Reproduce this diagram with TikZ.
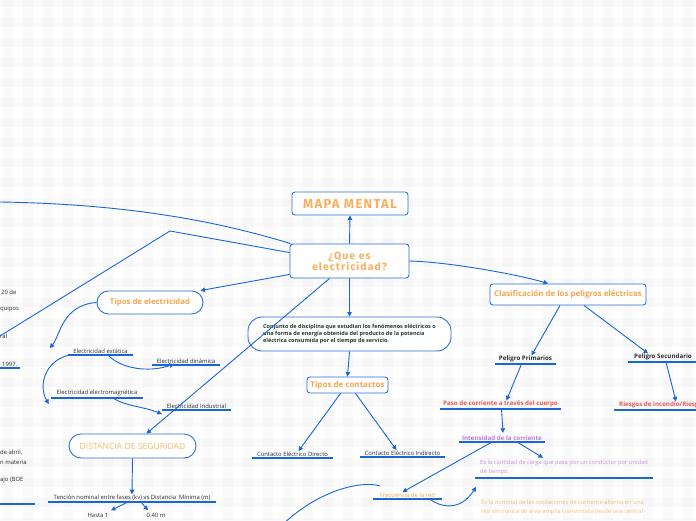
\documentclass[tikz,border=0pt]{standalone}
\usepackage{fontspec}
\setmainfont{Open Sans}
\newfontfamily\headfont{Fira Sans}[LetterSpace=10]
\usetikzlibrary{arrows.meta}
\definecolor{lineblue}{RGB}{24,102,216}
\definecolor{boxblue}{RGB}{45,112,218}
\definecolor{titleor}{RGB}{247,176,96}
\definecolor{orangetx}{RGB}{246,164,76}
\definecolor{distor}{RGB}{249,184,101}
\definecolor{darktx}{RGB}{45,45,45}
\definecolor{conjtx}{RGB}{36,58,44}
\definecolor{redtx}{RGB}{236,88,88}
\definecolor{purpletx}{RGB}{196,120,214}
\definecolor{lilactx}{RGB}{200,150,218}
\definecolor{lightor}{RGB}{249,190,120}
\tikzset{
  box/.style={draw=boxblue, line width=0.9pt, fill=white, rounded corners=3pt, inner sep=0pt, align=center},
  pill/.style={box, rounded corners=11.5pt},
  conn/.style={draw=lineblue, line width=0.9pt},
  arr/.style={conn, -{Triangle[length=4.5pt,width=4.5pt]}},
  ulline/.style={draw=lineblue, line width=1.4pt},
  ul/.style={inner xsep=0pt, inner ysep=1.5pt, anchor=south,
    append after command={(\tikzlastnode.south west) edge[ulline] (\tikzlastnode.south east)}},
  small/.style={font=\fontsize{5.9}{7}\selectfont},
  smallb/.style={font=\bfseries\fontsize{6.2}{7}\selectfont},
}
\begin{document}
\begin{tikzpicture}[x=1pt,y=-1pt]
\useasboundingbox (0,0) rectangle (696,520);
\clip (0,0) rectangle (696,520);
\fill[white] (0,0) rectangle (696,520);
\foreach \i in {0,...,35} \fill[black,opacity=0.02] (\i*20+3,0) rectangle ++(10,520);
\foreach \j in {0,...,26} \fill[black,opacity=0.02] (0,\j*20-2) rectangle ++(696,9);

% main boxes
\node[box, minimum width=116pt, minimum height=23pt, text=titleor,
  font=\headfont\bfseries\fontsize{13}{14}\selectfont] (mapa) at (350,203.5) {MAPA MENTAL};
\node[box, minimum width=119pt, minimum height=34pt, text=titleor,
  font=\headfont\bfseries\fontsize{10.5}{11}\selectfont] (central) at (349.5,261) {¿Que es\\electricidad?};
\node[pill, minimum width=106pt, minimum height=23pt, text=orangetx,
  font=\bfseries\fontsize{7.8}{8}\selectfont] (tipos) at (150,302.5) {Tipos de electricidad};
\node[pill, rounded corners=12pt, minimum width=127pt, minimum height=24pt, text=distor,
  font=\fontsize{8.6}{9}\selectfont] (dist) at (132.5,446) {DISTANCIA DE SEGURIDAD};
\node[box, rounded corners=14pt, minimum width=203pt, minimum height=34pt, text=conjtx,
  font=\bfseries\fontsize{5.5}{7.2}\selectfont, align=left] (conj) at (349.5,334)
  {Conjunto de disciplina que estudian los fenómenos eléctricos o\\una forma de energía obtenida del producto de la potencia\\eléctrica consumida por el tiempo de servicio.};
\node[box, minimum width=81pt, minimum height=16pt, text=orangetx,
  font=\bfseries\fontsize{8}{8}\selectfont] (tcont) at (347.5,385) {Tipos de contactos};
\node[box, minimum width=156pt, minimum height=21pt, text=orangetx,
  font=\bfseries\fontsize{7.9}{8}\selectfont] (clas) at (568,294.5) {Clasificación de los peligros eléctricos};

% underlined topics
\node[ul, small, text=darktx, minimum width=65pt] (est) at (100.5,355) {Electricidad estática};
\node[ul, small, text=darktx, minimum width=68pt] (din) at (186,365) {Electricidad dinámica};
\node[ul, small, text=darktx, minimum width=92pt] (em) at (97,398) {Electricidad electromagnética};
\node[ul, small, text=darktx, minimum width=69pt] (ind) at (196.5,410) {Electricidad Industrial};
\node[ul, small, text=darktx, minimum width=168pt] (ten) at (132,502) {Tención nominal entre fases (kv) vs Distancia\ \ Mínima (m)};
\node[small, text=darktx] (hasta) at (98,515) {Hasta 1};
\node[small, text=darktx] (m040) at (156,515) {0.40 m};
\node[ul, small, text=darktx, minimum width=81pt] (cdir) at (292.5,458) {Contacto Eléctrico Directo};
\node[ul, small, text=darktx, minimum width=85pt] (cind) at (402.5,457) {Contacto Eléctrico Indirecto};
\node[ul, smallb, text=darktx, minimum width=61pt] (pprim) at (525.5,364) {Peligro Primarios};
\node[ul, smallb, text=darktx, minimum width=70pt] (psec) at (663,362) {Peligro Secundario};
\node[ul, smallb, text=redtx, minimum width=121pt] (paso) at (500.5,409) {Paso de corriente a través del cuerpo};
\node[ul, smallb, text=redtx, anchor=south west, inner xsep=5pt] (riesgo) at (614,410) {Riesgos de incendio/Riesgo};
\node[ul, smallb, text=purpletx, minimum width=86pt] (intens) at (502,442) {Intensidad de la corriente};
\node[ul, text=lilactx, anchor=south west, inner xsep=5pt, inner ysep=3pt, align=left,
  font=\fontsize{5.8}{9}\selectfont] (esla) at (475,478)
  {Es la cantidad de carga que pasa por un conductor por unidad\\de tiempo.};
\node[ul, small, text=orangetx, minimum width=69pt] (frec) at (407.5,499) {Frecuencia de la red};
\node[text=lightor, anchor=north west, align=left, inner sep=0pt,
  font=\fontsize{5.8}{9}\selectfont] (esnom) at (481,500)
  {Es la nominal de las oscilaciones de corriente alterna en una\\red sincrónica de área amplia transmitida desde una central};

% cut-off fragments on the left edge
\node[small, text=darktx, anchor=west, inner sep=0pt] (f1) at (1,292) {20 de};
\node[small, text=darktx, anchor=west, inner sep=0pt] (f2) at (0,309) {quipos};
\node[small, text=darktx, anchor=west, inner sep=0pt] (f3) at (0,336) {ral};
\node[ul, small, text=darktx, anchor=south west, inner xsep=3pt] (f4) at (-1,368) {1997.\hspace{5pt}};
\node[small, text=darktx, anchor=west, inner sep=0pt] (f5) at (0,453) {de abril,};
\node[small, text=darktx, anchor=west, inner sep=0pt] (f6) at (0,462) {n materia};
\node[small, text=darktx, anchor=west, inner sep=0pt] (f7) at (0,480) {ajo (BOE};
\node[ul, minimum width=37pt, minimum height=2pt, anchor=south west] (f8) at (-2,504) {};

% free ends
\coordinate (offL1) at (0,202);
\coordinate (bend1) at (170,231);
\coordinate (offL2) at (0,336);
\coordinate (arcA) at (380,486);
\coordinate (arcB) at (268,540);

% connectors
\draw[arr] (central.north) -- (mapa.south);
\draw[conn] (offL1) .. controls (130,204) and (220,222) .. ([xshift=1pt]central.north west);
\draw[conn] ([yshift=-9pt]central.north west) -- (bend1) -- (offL2);
\draw[arr] ([yshift=4pt]central.south west) -- ([xshift=-3pt]tipos.north east);
\draw[arr] (tipos.west) .. controls (62,305) and (60,336) .. ([xshift=-18pt,yshift=-1pt]est.north west);
\draw[arr] ([xshift=40pt]est.south west) .. controls (125,372) and (155,371) .. ([xshift=22pt,yshift=1pt]din.south west);
\draw[arr] ([xshift=2pt]est.south west) .. controls (45,360) and (38,386) .. ([xshift=-2pt,yshift=-6pt]em.south west);
\draw[arr] ([xshift=62pt]em.south west) .. controls (125,406) and (145,407) .. ([yshift=-4pt]ind.south west);
\draw[arr] ([xshift=-20pt]central.south) -- ([xshift=14pt]dist.north);
\draw[arr] (dist.south) -- ([yshift=-1pt]ten.north);
\draw[arr] ([xshift=-2pt,yshift=1pt]ten.south) -- ([xshift=13pt,yshift=-1pt]hasta.north);
\draw[arr] ([xshift=8pt,yshift=1pt]ten.south) -- ([xshift=-8pt,yshift=-1pt]m040.north);
\draw[arr] (central.south) -- (conj.north);
\draw[arr] (conj.south) -- (tcont.north);
\draw[arr] ([xshift=-7pt]tcont.south) -- ([xshift=6pt,yshift=-1pt]cdir.north);
\draw[arr] ([xshift=8pt]tcont.south) -- ([xshift=-6pt,yshift=-1pt]cind.north);
\draw[arr] (central.east) .. controls (450,262) and (520,275) .. ([xshift=-20pt]clas.north);
\draw[arr] ([xshift=-8pt]clas.south) -- ([xshift=6pt,yshift=-1pt]pprim.north);
\draw[arr] ([xshift=16pt]clas.south) -- ([xshift=-15pt,yshift=-1pt]psec.north);
\draw[arr] ([xshift=-4pt]pprim.south) -- ([xshift=6pt,yshift=-1pt]paso.north);
\draw[arr] ([xshift=3pt]psec.south) -- ([xshift=62pt,yshift=-1pt]riesgo.north west);
\draw[arr] ([xshift=1pt]paso.south) -- ([xshift=1pt,yshift=1pt]intens.north);
\draw[arr] ([xshift=15pt]intens.south) -- ([xshift=68pt,yshift=-1pt]esla.north west);
\draw[arr] ([xshift=-10pt]intens.south) -- ([xshift=-5pt,yshift=-1pt]frec.north);
\draw[arr] ([xshift=22pt]frec.south) .. controls (440,507) and (460,512) .. ([xshift=-5pt,yshift=13pt]esnom.north west);
\draw[conn] (arcA) .. controls (362,480) and (310,490) .. (arcB);
\end{tikzpicture}
\end{document}
